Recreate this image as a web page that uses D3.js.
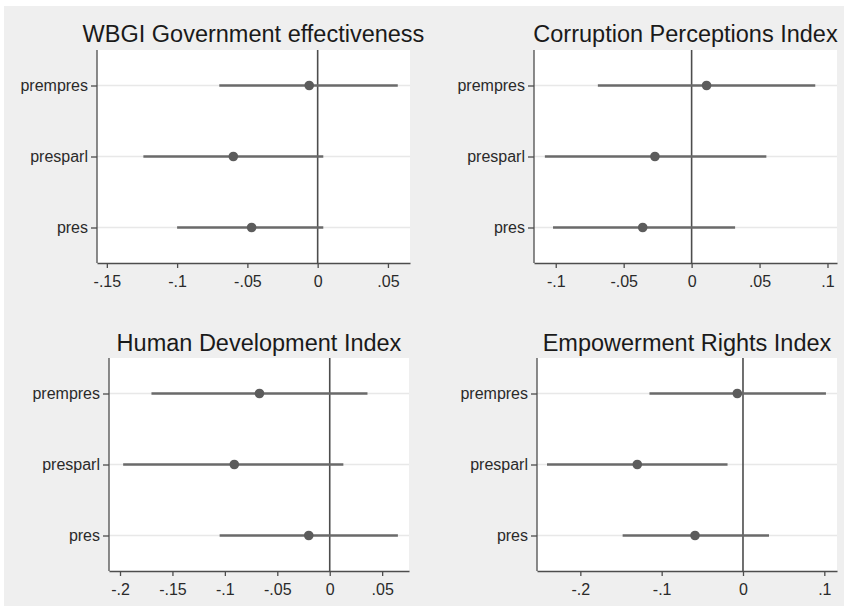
<!DOCTYPE html>
<html>
<head>
<meta charset="utf-8">
<script src="https://cdn.jsdelivr.net/npm/d3@7"></script>
<style>
  body { margin: 0; background: #ffffff; }
  svg { display: block; font-family: "Liberation Sans", Arial, sans-serif; }
  .tick text { fill: #2a2a2a; font-size: 16px; }
  .axis path, .axis line { stroke: #4d4d4d; stroke-width: 1.3px; }
  .title { fill: #1a1a1a; font-size: 23.5px; }
</style>
</head>
<body>
<div id="chart"></div>
<script>
// categories (rows of every panel)
const categories = ["prempres", "presparl", "pres"];

// panel titles
const titles = [
  "WBGI Government effectiveness",
  "Corruption Perceptions Index",
  "Human Development Index",
  "Empowerment Rights Index",
];

// point estimates and interval ends, order = categories
const wbgiEst = [-0.006, -0.060, -0.047];
const wbgiLow = [-0.070, -0.124, -0.100];
const wbgiHigh = [0.057, 0.004, 0.004];

const cpiEst = [0.011, -0.027, -0.036];
const cpiLow = [-0.069, -0.108, -0.102];
const cpiHigh = [0.091, 0.055, 0.032];

const hdiEst = [-0.067, -0.091, -0.020];
const hdiLow = [-0.170, -0.197, -0.105];
const hdiHigh = [0.036, 0.013, 0.065];

const eriEst = [-0.007, -0.130, -0.059];
const eriLow = [-0.115, -0.241, -0.148];
const eriHigh = [0.102, -0.019, 0.032];

// x tick values per panel
const wbgiTicks = [-0.15, -0.1, -0.05, 0, 0.05];
const cpiTicks = [-0.1, -0.05, 0, 0.05, 0.1];
const hdiTicks = [-0.2, -0.15, -0.1, -0.05, 0, 0.05];
const eriTicks = [-0.2, -0.1, 0, 0.1];

// x ranges shown per panel
const wbgiDomain = [-0.157, 0.0657];
const cpiDomain = [-0.116, 0.107];
const hdiDomain = [-0.2105, 0.0756];
const eriDomain = [-0.2533, 0.1156];

const width = 844, height = 606;

const panels = [
  { title: titles[0], est: wbgiEst, lo: wbgiLow, hi: wbgiHigh, ticks: wbgiTicks, domain: wbgiDomain,
    box: { left: 97, right: 410, top: 50, bottom: 263 }, titleY: 42 },
  { title: titles[1], est: cpiEst, lo: cpiLow, hi: cpiHigh, ticks: cpiTicks, domain: cpiDomain,
    box: { left: 534, right: 837, top: 50, bottom: 263 }, titleY: 42 },
  { title: titles[2], est: hdiEst, lo: hdiLow, hi: hdiHigh, ticks: hdiTicks, domain: hdiDomain,
    box: { left: 109, right: 409, top: 358, bottom: 571 }, titleY: 351 },
  { title: titles[3], est: eriEst, lo: eriLow, hi: eriHigh, ticks: eriTicks, domain: eriDomain,
    box: { left: 537, right: 837, top: 358, bottom: 571 }, titleY: 351 },
];

const svg = d3.select("#chart")
  .append("svg")
  .attr("width", width)
  .attr("height", height);

// background (white strip top/left like the scan)
svg.append("rect")
  .attr("x", 4).attr("y", 6)
  .attr("width", width - 4).attr("height", height - 6)
  .attr("fill", "#efefef");

// format like Stata: -.15, .05, 0
function fmt(v) {
  if (Math.abs(v) < 1e-9) return "0";
  return String(+v.toFixed(3)).replace(/^(-?)0\./, "$1.");
}

panels.forEach(function (p) {
  const b = p.box;
  const x = d3.scaleLinear().domain(p.domain).range([b.left, b.right]);
  const y = d3.scalePoint().domain(categories).range([b.top, b.bottom]).padding(0.5);

  const g = svg.append("g");

  // plot region
  g.append("rect")
    .attr("x", b.left).attr("y", b.top)
    .attr("width", b.right - b.left).attr("height", b.bottom - b.top)
    .attr("fill", "#ffffff");

  // light gridlines at each category
  g.selectAll(".grid")
    .data(categories)
    .enter()
    .append("line")
    .attr("x1", b.left).attr("x2", b.right)
    .attr("y1", (d) => y(d)).attr("y2", (d) => y(d))
    .attr("stroke", "#e8e8e8")
    .attr("stroke-width", 1.5);

  // zero reference line
  g.append("line")
    .attr("x1", x(0)).attr("x2", x(0))
    .attr("y1", b.top).attr("y2", b.bottom)
    .attr("stroke", "#4d4d4d")
    .attr("stroke-width", 1.6);

  // intervals
  g.selectAll(".ci")
    .data(categories)
    .enter()
    .append("line")
    .attr("x1", (d, i) => x(p.lo[i]))
    .attr("x2", (d, i) => x(p.hi[i]))
    .attr("y1", (d) => y(d)).attr("y2", (d) => y(d))
    .attr("stroke", "#6a6a6a")
    .attr("stroke-width", 2.6);

  // estimates
  g.selectAll(".dot")
    .data(categories)
    .enter()
    .append("circle")
    .attr("cx", (d, i) => x(p.est[i]))
    .attr("cy", (d) => y(d))
    .attr("r", 4.8)
    .attr("fill", "#5c5c5c");

  // axis-x
  g.append("g")
    .attr("class", "axis")
    .attr("transform", `translate(0, ${b.bottom})`)
    .call(d3.axisBottom(x).tickValues(p.ticks).tickFormat(fmt).tickSize(5).tickPadding(8).tickSizeOuter(0));

  // axis-y
  g.append("g")
    .attr("class", "axis")
    .attr("transform", `translate(${b.left}, 0)`)
    .call(d3.axisLeft(y).tickSize(6).tickPadding(3).tickSizeOuter(0))
    .select(".domain")
    .attr("d", `M0,${b.top}V${b.bottom}`);

  g.selectAll(".axis text").attr("font-family", null).attr("font-size", null);

  // title
  g.append("text")
    .attr("class", "title")
    .attr("x", (b.left + b.right) / 2)
    .attr("y", p.titleY)
    .attr("text-anchor", "middle")
    .text(p.title);
});
</script>
</body>
</html>
